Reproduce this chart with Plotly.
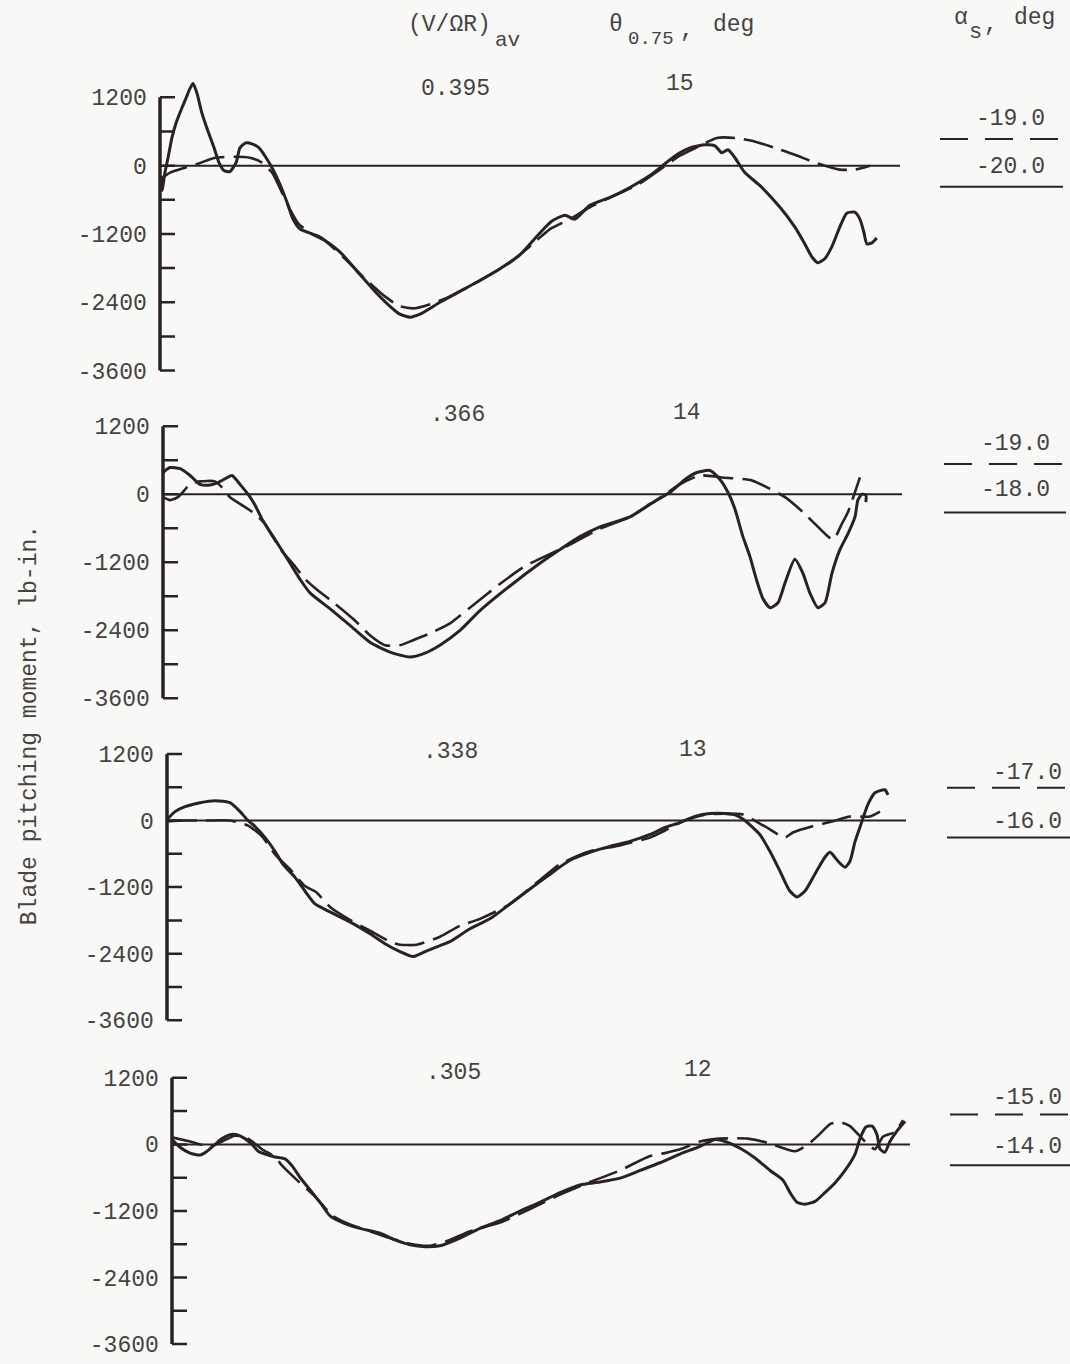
import plotly.graph_objects as go

W, H = 1070, 1364

# ---- data: blade azimuth (deg) and blade pitching moment (lb-in.) ----
# Run 1: (V/OmegaR)av = 0.395, theta = 15 deg
az_solid_1 = [0.5, 1, 2.4, 3.9, 5.8, 7.8, 10.2, 12.6, 14.6, 16.1, 18.0, 20.4, 23.3, 26.3, 28.7, 31.1,
              34.0, 37.0, 38.9, 41.8, 44.7, 48.2, 51.6, 55.0, 58.4, 61.8, 64.7, 68.1, 77.8, 87.5,
              97.3, 104.6, 111.9, 116.7, 121.6, 126.5, 136.2, 145.9, 155.6, 165.4, 175.1, 184.8,
              190.7, 197.0, 201.8, 209.1, 218.9, 228.6, 238.3, 248.1, 252.9, 257.8, 265.1, 270.0,
              273.3, 276.3, 279.7, 284.5, 291.8, 301.6, 308.9, 313.7, 317.1, 320.0, 323.4, 326.8,
              330.7, 334.1, 338.0, 340.5, 342.4, 343.9, 346.3, 348.7]
m_solid_1 = [-174, -435, -122, 139, 487, 748, 974, 1183, 1357, 1444, 1270, 922, 609, 313, 52, -87,
             -104, 52, 313, 400, 383, 313, 139, -70, -331, -644, -940, -1114, -1253, -1514,
             -1914, -2210, -2471, -2610, -2662, -2610, -2401, -2210, -2018, -1810, -1566, -1183,
             -974, -870, -940, -696, -557, -383, -174, 104, 226, 313, 365, 348,
             226, 278, 139, -122, -348, -731, -1079, -1375, -1601, -1705, -1636, -1427,
             -1079, -835, -818, -940, -1166, -1375, -1357, -1270]
az_dash_1 = [0, 4.9, 12.2, 18.5, 26.8, 36.5, 43.8, 49.6, 54.5, 59.3, 63.2, 67.1, 73.0, 80.3, 90.0,
             99.7, 109.4, 116.7, 124.0, 131.3, 141.1, 155.6, 170.2, 182.4, 189.7, 199.4, 209.1,
             221.3, 233.5, 243.2, 252.9, 262.6, 270.9, 279.7, 288.4, 299.1, 308.9, 316.2, 323.4,
             330.7, 338.0, 345.3]
m_dash_1 = [-244, -122, -35, 35, 139, 157, 139, 52, -122, -470, -766, -1009, -1183, -1322, -1636,
            -1984, -2297, -2471, -2506, -2436, -2297, -2018, -1705, -1340, -1114, -940, -731,
            -522, -313, -70, 174, 348, 487, 487, 435, 313, 191, 87, 0,
            -70, -70, 0]

# Run 2: (V/OmegaR)av = .366, theta = 14 deg
az_solid_2 = [0, 3.4, 8.3, 13.2, 18.0, 21.9, 25.8, 29.7, 33.6, 37.5, 41.4, 44.8, 48.2, 51.1, 54.6,
              61.9, 66.7, 71.6, 81.3, 91.1, 100.8, 110.6, 120.3, 127.6, 134.9, 144.7, 154.4,
              169.0, 183.6, 193.4, 203.1, 212.9, 227.5, 237.2, 247.0, 254.3, 260.1, 266.4, 271.3,
              275.2, 278.6, 282.5, 285.9, 289.3, 292.3, 295.7, 299.6, 303.0, 307.8, 311.7, 315.1,
              319.0, 322.5, 325.9, 329.8, 333.7, 337.1, 338.5, 340.5, 342.4, 342.4]
m_solid_2 = [383, 470, 452, 331, 174, 157, 191, 261, 331, 174, 0, -191, -435, -609, -800,
             -1218, -1496, -1740, -2018, -2314, -2610, -2784, -2871, -2801, -2662, -2401, -2053,
             -1618, -1218, -974, -748, -574, -400, -174, 35, 261, 383, 418, 261,
             35, -261, -748, -1096, -1531, -1844, -2001, -1914, -1566, -1148, -1392, -1740,
             -2001, -1914, -1392, -974, -696, -400, -104, 0, -17, -139]
az_dash_2 = [0, 3.4, 7.3, 13.2, 18.0, 25.3, 28.7, 32.6, 38.5, 44.8, 49.7, 57.0, 64.3, 69.2, 74.0,
             83.8, 93.5, 100.8, 108.1, 115.4, 121.8, 130.1, 139.8, 149.5, 164.1, 176.3, 186.1,
             198.2, 212.9, 227.5, 239.7, 251.8, 261.6, 272.3, 286.9, 294.2, 303.0, 311.7, 316.6,
             326.4, 330.7, 333.7, 339.5]
m_dash_2 = [-52, -104, -52, 174, 226, 226, 122, -52, -191, -348, -522, -957, -1270, -1496, -1653,
            -1931, -2227, -2488, -2662, -2662, -2575, -2453, -2279, -2001, -1583, -1270, -1096,
            -887, -609, -400, -122, 174, 331, 296, 244, 122, -52, -313, -487,
            -800, -522, -313, 296]

# Run 3: (V/OmegaR)av = .338, theta = 13 deg
az_solid_3 = [0, 3.9, 8.8, 16.1, 23.4, 30.7, 35.6, 39.5, 42.9, 47.7, 52.6, 56.5, 62.3, 67.2, 72.1,
              79.4, 89.1, 98.9, 106.2, 113.5, 119.8, 125.7, 133.0, 137.8, 147.6, 157.3, 167.1,
              176.8, 186.6, 196.3, 206.0, 215.8, 225.5, 235.3, 242.6, 249.9, 257.2, 264.5, 271.8,
              277.6, 281.5, 288.8, 293.7, 298.6, 303.4, 306.9, 310.8, 315.6, 320.5, 323.0, 326.9,
              330.3, 332.7, 335.2, 338.5, 341.4, 344.9, 349.7, 351.2]
m_solid_3 = [18, 161, 251, 322, 358, 322, 161, 0, -107, -304, -555, -788, -1020, -1271, -1504,
             -1647, -1826, -2041, -2220, -2363, -2452, -2363, -2255, -2184, -1951, -1772, -1504,
             -1235, -967, -716, -573, -465, -376, -251, -125, -36, 72, 125, 125,
             90, 0, -251, -555, -913, -1271, -1378, -1271, -967, -662, -573, -734,
             -841, -734, -376, -18, 286, 501, 555, 465]
az_dash_3 = [0, 8.8, 18.5, 30.7, 39.5, 46.3, 52.6, 59.9, 67.2, 72.6, 79.4, 89.1, 98.9, 108.6, 113.5,
             121.8, 133.0, 142.7, 152.5, 167.1, 181.7, 191.4, 206.0, 220.6, 235.3, 242.6, 252.3,
             262.1, 271.8, 280.6, 291.3, 301.0, 304.9, 314.1, 323.9, 332.7, 342.4, 347.3]
m_dash_3 = [-18, 0, 0, 0, -90, -286, -609, -877, -1181, -1289, -1557, -1790, -1987, -2184, -2238,
            -2238, -2094, -1897, -1772, -1504, -1074, -788, -555, -448, -304, -179, 0,
            107, 125, 107, -107, -304, -215, -107, -18, 72, 72, 161]

# Run 4: (V/OmegaR)av = .305, theta = 12 deg
az_solid_4 = [0, 3.9, 8.8, 13.7, 17.1, 21.0, 24.4, 28.3, 31.7, 35.6, 39.0, 42.0, 45.4, 50.2, 55.1,
              58.5, 62.4, 67.3, 72.2, 77.1, 84.4, 91.7, 101.5, 108.8, 116.1, 123.4, 130.7, 140.5,
              150.2, 160.0, 169.8, 179.5, 189.3, 199.0, 208.8, 218.5, 228.3, 238.0, 247.8, 257.6,
              264.9, 269.8, 277.1, 284.4, 291.7, 298.0, 301.5, 304.9, 308.8, 313.7, 318.5, 323.4,
              328.3, 333.2, 335.6, 338.5, 341.5, 343.9, 345.4, 347.8, 350.2, 353.7, 357.6]
m_solid_4 = [87, -52, -157, -191, -122, 0, 104, 174, 174, 104, 0, -122, -174, -226, -261,
             -383, -592, -818, -1044, -1288, -1427, -1514, -1601, -1723, -1810, -1844, -1827, -1688,
             -1514, -1375, -1201, -1044, -870, -731, -679, -609, -470, -331, -174, -35,
             87, 52, -70, -244, -470, -644, -870, -1044, -1079, -1027, -870, -696,
             -470, -174, 104, 313, 331, 174, -87, -139, 52, 244, 418]
az_dash_4 = [0.5, 8.8, 18.5, 24.4, 30.7, 37.1, 43.9, 50.2, 53.7, 61.0, 68.8, 78.5, 86.8, 96.6,
             106.3, 116.1, 125.9, 135.6, 145.4, 160.0, 174.6, 189.3, 203.9, 218.5, 233.2, 240.5,
             249.3, 257.6, 267.3, 281.0, 291.7, 303.9, 310.2, 316.1, 321.0, 325.9, 330.7, 338.0,
             342.9, 346.8, 352.7, 356.6]
m_dash_4 = [122, 52, -35, 52, 157, 104, -87, -226, -383, -644, -905, -1288, -1444, -1566,
            -1688, -1792, -1827, -1723, -1566, -1409, -1166, -905, -679, -470, -209, -157,
            -70, 52, 104, 104, 17, -122, 0, 191, 365, 400, 331, 52,
            -87, 139, 226, 435]

# ---- labels ----
speed_ratio = ["0.395", ".366", ".338", ".305"]
collective_pitch = ["15", "14", "13", "12"]
alpha_dashed = ["-19.0", "-19.0", "-17.0", "-15.0"]
alpha_solid = ["-20.0", "-18.0", "-16.0", "-14.0"]
y_tick_vals = [1200, 0, -1200, -2400, -3600]
y_tick_text = ["1200", "0", "-1200", "-2400", "-3600"]
y_minor_step = 600
azimuth_span = 360

solid_az = [az_solid_1, az_solid_2, az_solid_3, az_solid_4]
solid_m = [m_solid_1, m_solid_2, m_solid_3, m_solid_4]
dash_az = [az_dash_1, az_dash_2, az_dash_3, az_dash_4]
dash_m = [m_dash_1, m_dash_2, m_dash_3, m_dash_4]

# ---- panel geometry (pixels): spine x, end of zero line, y of 1200 and -3600 ----
panels = [
    dict(x0=160, x1=900, yt=98, yb=373, mu=(455, 90), th=(680, 85),
         key_x=(940, 1063), dl=(1010, 120), dy=140, sl=(1010, 168), sy=188),
    dict(x0=163, x1=902, yt=429, yb=703, mu=(457, 418), th=(687, 416),
         key_x=(944, 1066), dl=(1015, 447), dy=467, sl=(1015, 493), sy=516),
    dict(x0=167, x1=906, yt=759, yb=1027, mu=(450, 757), th=(693, 755),
         key_x=(947, 1070), dl=(1027, 778), dy=793, sl=(1027, 827), sy=843),
    dict(x0=172, x1=910, yt=1085, yb=1353, mu=(453, 1080), th=(698, 1077),
         key_x=(950, 1070), dl=(1027, 1105), dy=1122, sl=(1027, 1155), sy=1173),
]

INK = "#2a2222"
TEXT = "#474242"
FONT = "Liberation Mono"
X_LO, X_HI = -4, 364
Y_LO, Y_HI = -3700, 1650
TICK_PX = 15


def px(x):
    return x / W


def py(y):
    return 1 - y / H


def label(text, x, y, size=23, xanchor="center", angle=0):
    return dict(text=text, x=px(x), y=py(y), xref="paper", yref="paper",
                showarrow=False, xanchor=xanchor, yanchor="middle", textangle=angle,
                font=dict(family=FONT, size=size, color=TEXT))


fig = go.Figure()
layout = dict(
    width=W, height=H, margin=dict(l=0, r=0, t=0, b=0),
    paper_bgcolor="#f8f8f6", plot_bgcolor="rgba(0,0,0,0)",
    showlegend=False, font=dict(family=FONT, color=TEXT, size=23),
)
annotations = []
shapes = []

for i, p in enumerate(panels):
    k = i + 1
    xs = "x" if k == 1 else f"x{k}"
    ys = "y" if k == 1 else f"y{k}"
    sx = (p["x1"] - p["x0"]) / azimuth_span
    sy = (p["yb"] - p["yt"]) / (y_tick_vals[0] - y_tick_vals[-1])
    left = p["x0"] + X_LO * sx
    right = p["x0"] + X_HI * sx
    top = p["yt"] - (Y_HI - y_tick_vals[0]) * sy
    bottom = p["yb"] + (y_tick_vals[-1] - Y_LO) * sy

    layout["xaxis" if k == 1 else f"xaxis{k}"] = dict(
        domain=[px(left), px(right)], range=[X_LO, X_HI], anchor=ys,
        visible=False, fixedrange=True)
    layout["yaxis" if k == 1 else f"yaxis{k}"] = dict(
        domain=[py(bottom), py(top)], range=[Y_LO, Y_HI], anchor=xs,
        showgrid=False, zeroline=False, showline=False, ticks="",
        tickvals=y_tick_vals, ticktext=y_tick_text, ticklabelstandoff=4,
        tickfont=dict(family=FONT, size=23, color=TEXT))

    # vertical scale with ticks every 600 lb-in.
    tick_len = TICK_PX / sx
    fig.add_trace(go.Scatter(x=[0, 0], y=[y_tick_vals[-1], y_tick_vals[0]], mode="lines",
                             xaxis=xs, yaxis=ys, line=dict(color=INK, width=3.5),
                             hoverinfo="skip"))
    tx, ty = [], []
    v = y_tick_vals[-1]
    while v <= y_tick_vals[0]:
        tx += [0, tick_len, None]
        ty += [v, v, None]
        v += y_minor_step
    fig.add_trace(go.Scatter(x=tx, y=ty, mode="lines", xaxis=xs, yaxis=ys,
                             line=dict(color=INK, width=2.5), hoverinfo="skip"))

    # zero reference line
    fig.add_trace(go.Scatter(x=[0, azimuth_span], y=[0, 0], mode="lines", xaxis=xs, yaxis=ys,
                             line=dict(color=INK, width=2), hoverinfo="skip"))

    # dashed and solid moment traces
    fig.add_trace(go.Scatter(x=dash_az[i], y=dash_m[i], mode="lines", xaxis=xs, yaxis=ys,
                             line=dict(color=INK, width=2.6, dash="30px,9px",
                                       shape="spline", smoothing=0.6)))
    fig.add_trace(go.Scatter(x=solid_az[i], y=solid_m[i], mode="lines", xaxis=xs, yaxis=ys,
                             line=dict(color=INK, width=3, shape="spline", smoothing=0.6)))

    # run parameters above each trace
    annotations.append(label(speed_ratio[i], *p["mu"]))
    annotations.append(label(collective_pitch[i], *p["th"]))

    # shaft-angle key at right
    annotations.append(label(alpha_dashed[i], *p["dl"]))
    annotations.append(label(alpha_solid[i], *p["sl"]))
    shapes.append(dict(type="line", xref="paper", yref="paper",
                       x0=px(p["key_x"][0]), x1=px(p["key_x"][1]),
                       y0=py(p["dy"]), y1=py(p["dy"]),
                       line=dict(color=INK, width=2, dash="28px,17px")))
    shapes.append(dict(type="line", xref="paper", yref="paper",
                       x0=px(p["key_x"][0]), x1=px(p["key_x"][1]),
                       y0=py(p["sy"]), y1=py(p["sy"]),
                       line=dict(color=INK, width=2)))

# column headings, with full-width subscripts set lower
annotations += [
    label("(V/ΩR)", 493, 25, xanchor="right"),
    label("av", 493, 41, size=21, xanchor="left"),
    label("θ", 616, 25),
    label("0.75", 626, 39, size=19, xanchor="left"),
    label(",", 687, 31),
    label("deg", 733, 25),
    label("α", 961, 18),
    label("s", 975, 33, size=22),
    label(",", 991, 25),
    label("deg", 1034, 18),
    label("Blade pitching moment, lb-in.", 30, 730, angle=-90),
]

layout["annotations"] = annotations
layout["shapes"] = shapes
fig.update_layout(**layout)
fig.write_html("out.html")
